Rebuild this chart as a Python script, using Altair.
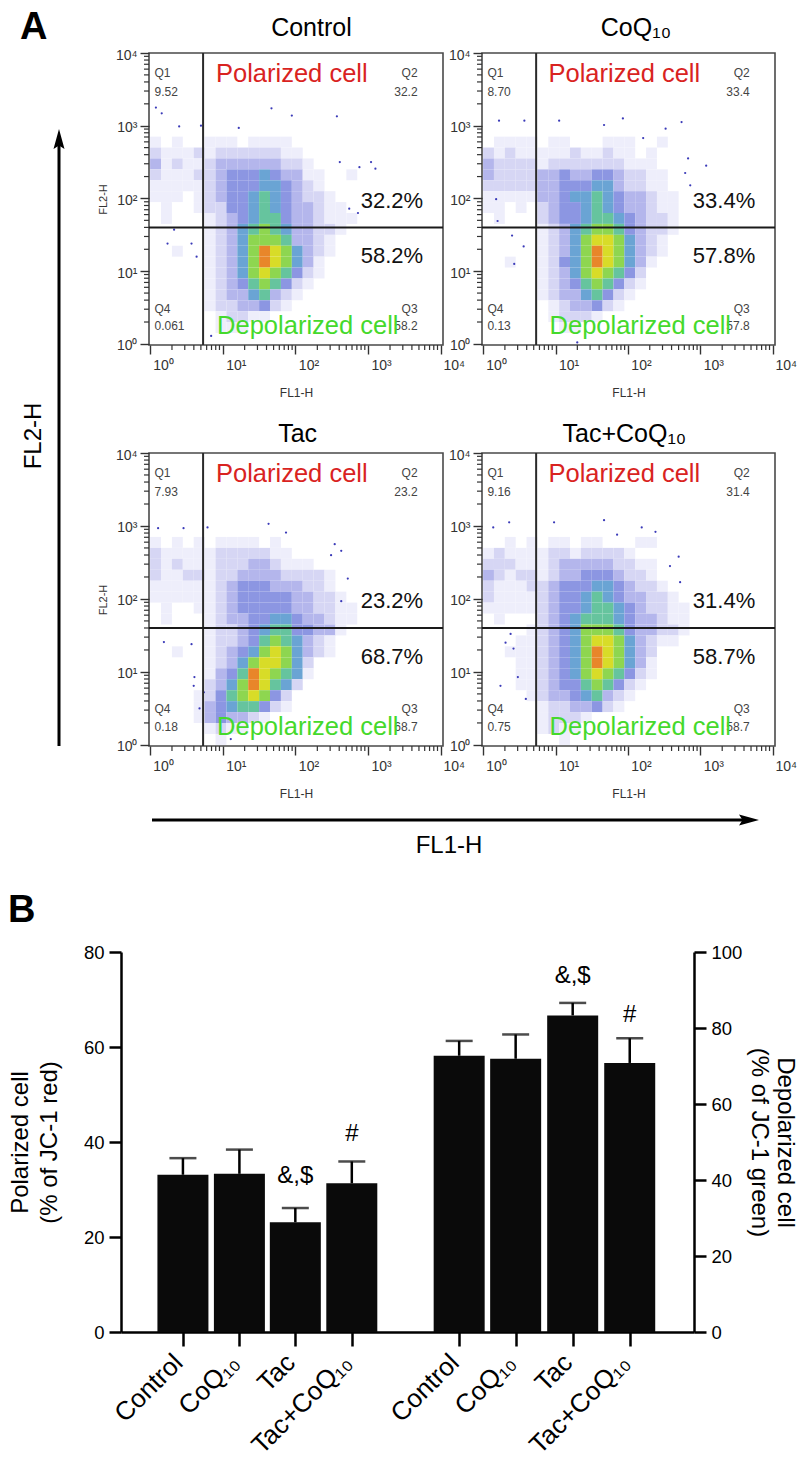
import altair as alt
import pandas as pd

FONT = "Liberation Sans"

# ---------- panel A: density read per 0.15-decade cell (top row = 10^3 side, left col = 10^0 side)
grid_control = [
"00000000000000000000","10100111011110000000","21112122222211000000","31211233333322100000",
"21112234445433110010","11111234445543210000","11101234456543221000","01001224456543321100",
"01000123456643321110","00000123567653322100","00000123577763321000","00100123579875321000",
"00000123579875310000","00000123578764210000","00000123467642100000","00000123356321000000",
"00000122334210000000","00000012211000000000","00000011100000000000","00000000000000000000"]
grid_coq = [
"00000000000000000000","01111011000111001000","21211111211211010000","32222122222221110000",
"32222334334432211000","22222334445532211000","11111334556543321100","11010234456543321100",
"01000234456654322100","00000123567764322100","00000123578875321000","00000123579875321000",
"00100124579875310000","00000123578764200000","00000123467642100000","00000123356421000000",
"00000012334210000000","00000012221000000000","00000001100000000000","00000000000000000000"]
grid_tac = [
"00000000000000000000","10101011110100000000","21111122222110000000","21211122233211100000",
"21122122333322221000","11111123444333221000","11111123444443322100","01001123444443322110",
"01000123344554332110","00000122345664433100","00000122346765321000","00100123457875321000",
"00000123578875200000","00000134698765100000","00000235798652000000","00001246787420000000",
"00001345664210000000","00001343321000000000","00000121100000000000","00000010000000000000"]
grid_taccoq = [
"00000000000000000000","00101011011000110000","12111122122221000000","22211123333322110000",
"32122123344432210000","21112234445543221000","21111234456543322100","11111234456654322110",
"01000234566654332110","00001234577764332210","00011234578875321100","00111234579875320000",
"00011234579875310000","00011234578764210000","00011234467642100000","00001233456321000000",
"00000122334210000000","00000122210000000000","00000121100000000000","00000001000000000000"]

# outlying single events, (log10 FL1, log10 FL2)
dots_control = [(.08,3.25),(.16,3.17),(1.67,3.24),(1.95,3.14),(2.57,3.13),(3.04,2.5),(3.10,2.41),(2.88,2.43),
 (2.86,1.80),(2.74,1.86),(2.61,2.5),(.33,1.57),(.24,1.38),(.57,1.38),(.64,1.2),(.40,2.99),(.70,3.0),(1.22,2.97),(.84,.11)]
dots_coq = [(.22,3.07),(.57,3.07),(1.05,3.07),(1.93,3.10),(2.74,3.05),(2.52,2.96),(3.08,2.45),(2.83,2.55),(2.79,2.35),
 (2.86,2.18),(.43,1.10),(.56,1.34),(.40,1.49),(.20,1.69),(.18,1.99),(1.30,0.02),(1.67,3.01),(2.21,2.83)]
dots_tac = [(.79,2.98),(.46,2.97),(.11,2.97),(1.63,3.03),(2.54,2.75),(2.63,2.66),(2.72,2.28),(2.63,1.97),(.19,1.41),
 (.57,1.38),(.61,.93),(.60,.81),(.68,.5),(.74,.72),(1.11,.08),(1.87,2.91),(2.49,2.6)]
dots_taccoq = [(.36,3.05),(.98,3.05),(1.67,3.08),(2.19,2.98),(2.38,2.92),(2.70,2.58),(2.58,2.45),(2.72,2.23),(.14,2.98),
 (.31,1.40),(.24,.81),(.42,1.32),(.48,.93),(.59,.63),(.38,1.52),(1.85,2.88)]

density_levels = list("123456789")
density_colors = ["#eeeefb","#d6d6f4","#b4b6ec","#8c96e2","#6aa4d4","#66c49e","#8ed650","#d8dc28","#e8862a"]

major_ticks = [1, 10, 100, 1000, 10000]
minor_ticks = [2,3,4,5,6,7,8,9,20,30,40,50,60,70,80,90,200,300,400,500,600,700,800,900,2000,3000,4000,5000,6000,7000,8000,9000]
decade_expr = "datum.value==1?'10⁰':datum.value==10?'10¹':datum.value==100?'10²':datum.value==1000?'10³':'10⁴'"

# ---------- panel B
bar_names = ["Control", "CoQ₁₀", "Tac", "Tac+CoQ₁₀"]
bar_pos_left = [0.93, 1.94, 2.94, 3.95]
bar_pos_right = [5.87, 6.88, 7.9, 8.92]
polarized = [33.1, 33.3, 23.1, 31.3]
polarized_top = [36.6, 38.4, 26.1, 35.9]
depolarized = [72.7, 71.9, 83.3, 70.8]
depolarized_top = [76.6, 78.3, 86.6, 77.3]

def txt(chart_df, size, color="black", **kw):
    return alt.Chart(chart_df).mark_text(font=FONT, fontSize=size, color=color, **kw)

def panel(grid, dots, q, up, low, title, title_x, title_y, gate_x, w, h, ytitle):
    xs = alt.Scale(type="log", domain=[0.966, 10715], nice=False)
    ys = alt.Scale(type="log", domain=[0.966, 10000], nice=False)
    cells = []
    for j, row in enumerate(grid):
        for k, c in enumerate(row):
            if c != "0":
                cells.append({"x0": 10**(0.15*k), "x1": 10**(0.15*(k+1)),
                              "y1": 10**(3.0-0.15*j), "y0": 10**(3.0-0.15*(j+1)), "d": c})
    rect = alt.Chart(pd.DataFrame(cells)).mark_rect().encode(
        x=alt.X("x0:Q", scale=xs, axis=alt.Axis(
            values=major_ticks, labelExpr=decade_expr, title="FL1-H", titleFontSize=12, titleFontWeight="normal",
            titleColor="#333333", titleFont=FONT, titlePadding=15, labelFont=FONT, labelFontSize=14, labelColor="#333333",
            labelOffset=13, labelPadding=4, labelFlush=False, labelOverlap=False, tickSize=9, tickWidth=1.4, tickColor="#333333",
            domain=False, grid=False)),
        x2="x1:Q",
        y=alt.Y("y0:Q", scale=ys, axis=alt.Axis(
            values=major_ticks, labelExpr=decade_expr, title="FL2-H" if ytitle else "", titleFontSize=11, titleFontWeight="normal",
            titleColor="#333333", titleFont=FONT, titlePadding=7, labelFont=FONT, labelFontSize=14, labelColor="#333333",
            labelOffset=2, labelPadding=3, labelFlush=False, labelOverlap=False, tickSize=9, tickWidth=1.4, tickColor="#333333",
            domain=False, grid=False)),
        y2="y1:Q",
        color=alt.Color("d:N", scale=alt.Scale(domain=density_levels, range=density_colors), legend=None),
    )
    dot_df = pd.DataFrame({"x": [10**a for a, b in dots], "y": [10**b for a, b in dots]})
    dot = alt.Chart(dot_df).mark_circle(size=5, color="#3a3ab8", opacity=1).encode(
        x=alt.X("x:Q", scale=xs, axis=None), y=alt.Y("y:Q", scale=ys, axis=None))
    minor = pd.DataFrame({"v": minor_ticks})
    mx = alt.Chart(minor).mark_rule(color="#333333", strokeWidth=1.2).encode(
        x=alt.X("v:Q", scale=xs, axis=None), y=alt.value(h), y2=alt.value(h+5))
    my = alt.Chart(minor).mark_rule(color="#333333", strokeWidth=1.2).encode(
        y=alt.Y("v:Q", scale=ys, axis=None), x=alt.value(-5), x2=alt.value(0))
    gx = alt.Chart(pd.DataFrame({"v": [gate_x]})).mark_rule(color="#2a2a2a", strokeWidth=2).encode(
        x=alt.X("v:Q", scale=xs, axis=None))
    gy = alt.Chart(pd.DataFrame({"v": [40]})).mark_rule(color="#1a1a1a", strokeWidth=2).encode(
        y=alt.Y("v:Q", scale=ys, axis=None))

    def label(rows, size, color, align="center", **kw):
        df = pd.DataFrame([{"x": 10**a, "y": 10**b, "t": t} for a, b, t in rows])
        return alt.Chart(df).mark_text(font=FONT, fontSize=size, color=color, align=align, baseline="middle", **kw).encode(
            x=alt.X("x:Q", scale=xs, axis=None), y=alt.Y("y:Q", scale=ys, axis=None), text="t:N")

    layers = [rect, dot, mx, my, gx, gy,
        label([(.06, 3.73, "Q1"), (.06, 3.47, q[0]), (.06, .486, "Q4"), (.06, .24, q[3])], 12, "#444444", "left"),
        label([(3.68, 3.73, "Q2"), (3.68, 3.47, q[1]), (3.68, .486, "Q3"), (3.68, .24, q[2])], 12, "#444444", "right"),
        label([(1.95, 3.71, "Polarized cell")], 25.5, "#d9231f"),
        label([(2.17, .25, "Depolarized cell")], 25.5, "#45d92c"),
        label([(3.757, 1.97, up), (3.757, 1.21, low)], 22, "#111111", "right"),
        label([(title_x, title_y, title)], 25, "black"),
    ]
    return alt.layer(*layers).resolve_axis(x="independent", y="independent").properties(width=w, height=h,
        view=alt.ViewBackground(stroke="#4a4a4a", strokeWidth=1.6))

control = panel(grid_control, dots_control, ["9.52", "32.2", "58.2", "0.061"], "32.2%", "58.2%", "Control", 2.22, 4.35, 5.36, 294, 292, True)
coq = panel(grid_coq, dots_coq, ["8.70", "33.4", "57.8", "0.13"], "33.4%", "57.8%", "CoQ₁₀", 2.11, 4.35, 5.4, 293, 292, False)
tac = panel(grid_tac, dots_tac, ["7.93", "23.2", "68.7", "0.18"], "23.2%", "68.7%", "Tac", 2.03, 4.26, 5.36, 294, 293, True)
taccoq = panel(grid_taccoq, dots_taccoq, ["9.16", "31.4", "58.7", "0.75"], "31.4%", "58.7%", "Tac+CoQ₁₀", 1.95, 4.26, 5.4, 293, 293, False)

# ---------- strips with the big letters and arrows
one = pd.DataFrame({"t": ["A"]})
letter_a = txt(one, 38, fontWeight="bold", align="left", baseline="alphabetic").encode(
    x=alt.value(12), y=alt.value(-14), text="t:N")
v_rule = alt.Chart(one).mark_rule(color="black", strokeWidth=3).encode(
    x=alt.value(51), y=alt.value(90), y2=alt.value(693))
v_head = alt.Chart(one).mark_point(shape="M0,-1 L0.55,1 L0,0.65 L-0.55,1 Z", filled=True, color="black", opacity=1, size=400).encode(
    x=alt.value(51), y=alt.value(86))
fl2 = txt(pd.DataFrame({"t": ["FL2-H"]}), 24, angle=270).encode(
    x=alt.value(26), y=alt.value(383), text="t:N")
strip1 = alt.layer(letter_a, v_rule, v_head, fl2).properties(width=102, height=292)

one2 = pd.DataFrame({"t": ["FL1-H"]})
h_rule = alt.Chart(one2).mark_rule(color="black", strokeWidth=3).encode(
    x=alt.value(144), x2=alt.value(737), y=alt.value(367))
h_head = alt.Chart(one2).mark_point(shape="M1,0 L-1,0.55 L-0.65,0 L-1,-0.55 Z", filled=True, color="black", opacity=1, size=400).encode(
    x=alt.value(741), y=alt.value(367))
fl1 = txt(one2, 24).encode(x=alt.value(441), y=alt.value(393), text="t:N")
strip2 = alt.layer(h_rule, h_head, fl1).properties(width=102, height=293)

letter_b = txt(pd.DataFrame({"t": ["B"]}), 38, fontWeight="bold", align="left", baseline="alphabetic").encode(
    x=alt.value(0), y=alt.value(68), text="t:N")
spacer = letter_b.properties(width=102, height=478)

# ---------- bar chart
BAR_CELL = 294
BAR_LEFT = -28
BAR_RIGHT = 545
all_pos = bar_pos_left + bar_pos_right
name_expr = "{" + ",".join(f"'{p}':'{n}'" for p, n in zip(all_pos, bar_names + bar_names)) + "}[datum.value]"
bx = alt.Scale(domain=[-0.088, 9.98], range=[BAR_LEFT, BAR_RIGHT], nice=False, zero=False)
yl = alt.Scale(domain=[0, 80], range=[478, 98], nice=False)
yr = alt.Scale(domain=[0, 100], range=[478, 98], nice=False)
x_axis = alt.Axis(values=all_pos, labelExpr=name_expr, title=None, labelAngle=315, labelAlign="right", labelBaseline="top",
                  labelFont=FONT, labelFontSize=26, labelColor="black", labelPadding=3, labelOffset=-14, labelOverlap=False, tickSize=14, tickWidth=2.5,
                  tickColor="black", domainWidth=2.5, domainColor="black", grid=False)

def y_axis(title, orient, vals, offset, pad, lh):
    return alt.Axis(title=title, orient=orient, values=vals, offset=offset, labelFont=FONT, labelFontSize=18.5, labelColor="black", labelPadding=5,
                    tickSize=12, tickWidth=2.5, tickColor="black", domainWidth=2.5, domainColor="black", grid=False,
                    titleFont=FONT, titleFontSize=24, titleLineHeight=lh, titleFontWeight="normal", titleColor="black", titlePadding=pad)

df_l = pd.DataFrame({"p": bar_pos_left, "v": polarized, "top": polarized_top})
df_r = pd.DataFrame({"p": bar_pos_right, "v": depolarized, "top": depolarized_top})

def side(df, scale, xaxis, axis, marks):
    X = alt.X("p:Q", scale=bx, axis=None)
    bar = alt.Chart(df).mark_bar(size=51, color="#0a0a0a").encode(x=alt.X("p:Q", scale=bx, axis=xaxis),
                                                                   y=alt.Y("v:Q", scale=scale, axis=axis))
    rule = alt.Chart(df).mark_rule(color="black", strokeWidth=2.5).encode(x=X, y=alt.Y("v:Q", scale=scale, axis=None), y2="top:Q")
    cap = alt.Chart(df).mark_tick(color="black", size=27, thickness=2.5, orient="horizontal").encode(
        x=X, y=alt.Y("top:Q", scale=scale, axis=None))
    note = alt.Chart(pd.DataFrame(marks)).mark_text(font=FONT, fontSize=24, color="black").encode(
        x=X, y=alt.Y("y:Q", scale=scale, axis=None), text="t:N")
    return alt.layer(rule, cap, bar, note).resolve_axis(x="independent", y="independent")

left = side(df_l, yl, x_axis, y_axis(["Polarized cell", "(% of JC-1 red)"], "left", [0, 20, 40, 60, 80], -BAR_LEFT, 22, 29),
            {"p": [bar_pos_left[2], bar_pos_left[3]], "y": [32.9, 41.7], "t": ["&,$", "#"]})
right = side(df_r, yr, None, y_axis(["Depolarized cell", "(% of JC-1 green)"], "right", [0, 20, 40, 60, 80, 100], BAR_RIGHT - BAR_CELL, 5, 26),
             {"p": [bar_pos_right[2], bar_pos_right[3]], "y": [93.8, 83.5], "t": ["&,$", "#"]})
bars = alt.layer(left, right).resolve_scale(y="independent").resolve_axis(x="independent", y="independent").properties(width=BAR_CELL, height=478)

chart = alt.concat(strip1, control, coq, strip2, tac, taccoq, spacer, bars,
                   columns=3, align="none", bounds="flush", spacing={"row": 108, "column": 39}
                   ).properties(padding={"left": 0, "right": 0, "top": 1, "bottom": 0}).configure(font=FONT).configure_view(stroke=None)

chart.save("out.html", embed_options={"renderer": "svg", "actions": False})
